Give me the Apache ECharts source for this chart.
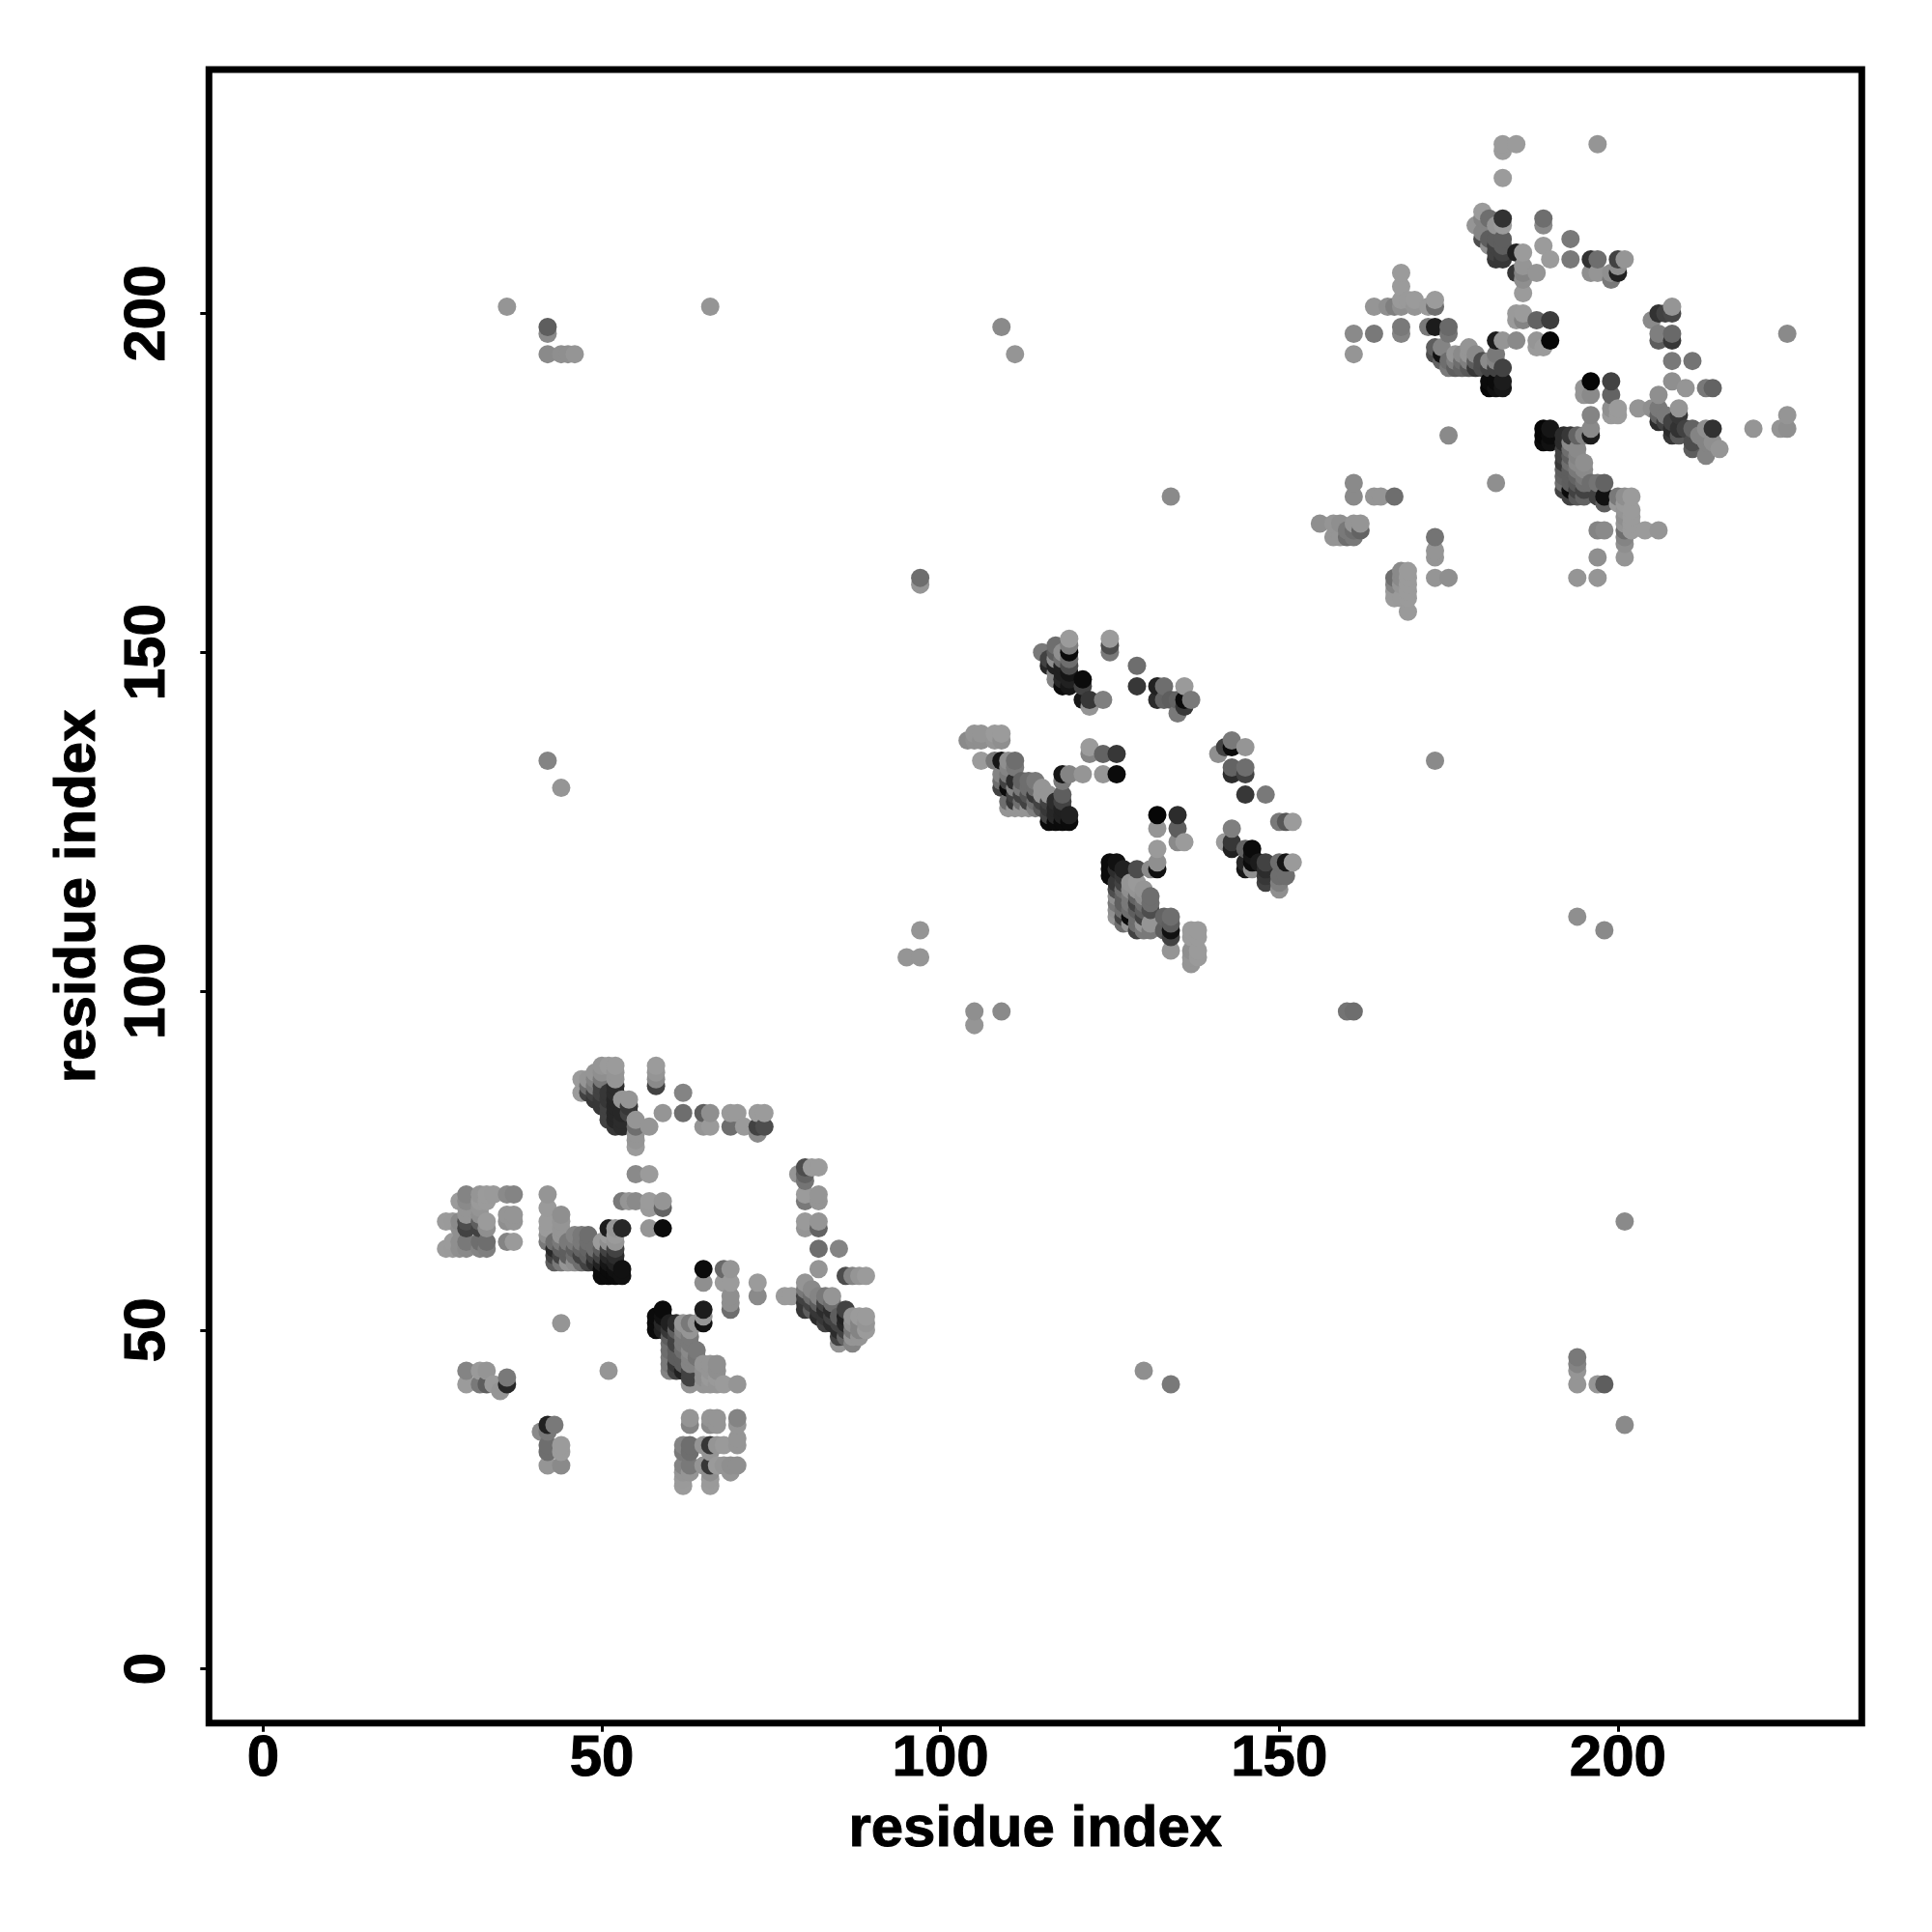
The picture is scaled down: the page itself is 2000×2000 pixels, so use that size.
<!DOCTYPE html>
<html><head><meta charset="utf-8">
<style>html,body{margin:0;padding:0;background:#fff}#c{width:2000px;height:2000px}</style>
<script src="https://cdn.jsdelivr.net/npm/echarts@6/dist/echarts.min.js"></script>
</head><body><div id="c"></div>
<script>
const tickValues=[0,50,100,150,200];
const axisTitle="residue index";
// each contact: [residue i, residue j, grey level]
const domainA=[
[47,87,150],[47,85,150],[48,87,135],[48,86,100],[48,85,60],[49,88,135],[49,87,120],[49,86,110],[49,85,60],[49,84,50],
[50,89,135],[50,88,130],[50,87,110],[50,86,60],[50,85,60],[50,84,50],[50,83,50],[51,89,150],[51,85,50],[51,84,50],[51,83,60],[51,82,60],[51,81,60],
[52,89,150],[52,88,135],[52,87,135],[52,86,40],[52,85,40],[52,84,35],[52,83,35],[52,82,35],[52,81,35],[52,80,50],
[53,84,135],[53,82,35],[53,81,40],[53,80,40],[54,84,135],[54,83,50],[54,82,60],[55,81,135],[55,80,100],[55,79,135],[55,78,135],[55,77,150],[57,80,135],
[58,89,150],[58,88,135],[58,87,125],[58,86,60],[62,85,120],[59,82,135],[62,82,100],[65,82,85],[66,82,130],[69,82,140],[70,82,140],[73,82,145],[74,82,145],
[65,80,135],[66,80,140],[69,80,100],[71,80,140],[73,80,60],[74,80,70],[73,79,125],
[55,73,125],[57,73,145],[53,69,110],[54,69,135],[55,69,125],[57,69,145],[59,69,135],[57,68,140],[59,68,90],
[51,65,25],[52,65,135],[53,65,35],[57,65,135],[59,65,10],
[30,70,120],[32,70,135],[33,70,145],[34,70,140],[36,70,125],[37,70,120],[29,69,145],[30,69,125],[32,69,140],[33,69,145],
[30,68,135],[32,68,135],[30,67,135],[32,67,130],[36,67,135],[37,67,135],[27,66,145],[28,66,140],[29,66,125],[30,66,70],[32,66,85],[33,66,145],[36,66,130],[37,66,135],
[29,65,130],[30,65,60],[32,65,60],[33,65,130],[28,63,145],[29,63,130],[30,63,110],[32,63,100],[33,63,100],[36,63,120],[37,63,140],
[27,62,145],[28,62,140],[29,62,130],[30,62,125],[32,62,120],[33,62,115],
[42,70,135],[42,68,140],[42,66,150],[42,65,145],[42,64,130],[42,63,110],
[43,63,100],[43,62,35],[43,61,60],[43,60,85],[44,67,130],[44,66,135],[44,65,135],[44,64,135],[44,63,110],[44,62,85],[44,61,60],[44,60,110],
[45,63,110],[45,62,85],[45,61,85],[45,60,135],[46,64,120],[46,63,110],[46,62,85],[46,61,100],[46,60,130],
[47,64,110],[47,63,110],[47,62,90],[47,61,60],[47,60,100],[48,64,100],[48,63,100],[48,62,90],[48,61,85],[48,60,60],
[49,62,100],[49,61,60],[49,60,40],[50,63,150],[50,62,85],[50,61,60],[50,60,30],[50,59,10],[50,58,10],
[51,64,150],[51,63,130],[51,62,60],[51,61,35],[51,60,20],[51,59,10],[51,58,10],[52,64,150],[52,63,135],[52,62,60],[52,61,40],[52,60,30],[52,59,15],[52,58,10],[53,59,15],[53,58,15],
[65,59,10],[68,59,95],[69,59,135],[65,57,130],[68,57,150],[69,57,150],[69,55,130],[69,54,130],[69,53,100],[73,57,150],[73,55,125],[77,55,150],[78,55,150],
[79,73,135],[80,74,70],[80,73,90],[80,72,105],[81,74,150],[82,74,150],[80,70,145],[80,69,110],[82,70,135],[82,69,135],[80,66,140],[80,65,135],[82,66,135],[82,65,90],[82,62,100],[85,62,120],[82,59,135],
[86,58,70],[87,58,120],[88,58,135],[89,58,150],[80,57,135],
[80,56,110],[80,55,60],[80,54,50],[80,53,50],[81,56,125],[81,55,100],[81,54,60],[81,53,85],[82,55,120],[82,54,85],[82,53,50],[82,52,40],
[83,55,110],[83,54,60],[83,53,40],[83,52,50],[83,51,60],[84,55,135],[84,54,100],[84,53,40],[84,52,60],[84,51,40],
[85,52,85],[85,51,60],[85,50,40],[85,49,60],[85,48,135],[86,53,60],[86,52,30],[86,51,35],[86,50,60],[86,49,90],
[87,52,135],[87,51,130],[87,50,110],[87,49,135],[87,48,120],[88,52,150],[88,51,120],[88,50,120],[88,49,135],[89,52,150],[89,51,135],[89,50,150],
[59,53,10],[58,52,10],[58,51,10],[58,50,10],[59,52,15],[59,51,35],[59,50,30],
[60,51,30],[60,50,50],[60,49,85],[60,48,100],[60,47,100],[60,46,110],[60,45,110],[60,44,120],
[61,51,40],[61,50,85],[61,49,60],[61,48,60],[61,47,85],[61,46,85],[61,45,50],[61,44,60],
[62,51,135],[62,50,120],[62,49,110],[62,48,110],[62,47,100],[62,46,85],[62,45,85],[62,44,30],
[63,51,110],[63,50,135],[63,49,110],[63,48,110],[63,47,125],[63,46,120],[63,45,120],[63,44,60],[63,43,60],[63,42,135],
[65,53,25],[65,52,135],[65,51,15],[64,51,135],[64,47,110],[64,46,105],[64,45,120],
[65,45,135],[65,44,130],[65,43,130],[65,42,135],[66,45,135],[66,44,135],[66,43,140],[66,42,135],[67,45,130],[67,44,130],[67,43,140],[67,42,135],[68,42,150],[70,42,135],
[30,44,120],[30,42,145],[32,44,140],[33,44,135],[32,42,110],[33,42,85],[34,42,140],[35,41,135],[36,43,110],[36,42,35],
[44,51,135],[51,44,135],
[42,36,30],[43,36,110],[41,35,125],[42,35,110],[42,33,100],[42,32,100],[42,30,135],[44,33,145],[44,32,150],[44,30,125],
[63,37,135],[63,36,120],[66,37,135],[67,37,135],[66,36,125],[67,36,135],[70,37,120],[70,36,135],[70,34,135],[70,33,135],
[62,33,120],[63,33,100],[62,32,110],[63,32,100],[65,33,135],[66,33,50],[66,32,135],[67,33,135],[68,33,140],
[62,30,120],[63,30,110],[62,29,135],[62,28,140],[62,27,150],[63,29,135],[65,30,135],[66,30,50],[67,30,140],[68,30,135],[69,30,130],[69,29,135],[70,30,130],[66,29,130],[66,28,140],[66,27,150]
];
const domainB=[
[119,152,150],[119,151,115],[119,150,10],[119,149,100],[115,150,110],[116,149,60],[116,148,35],[117,151,100],[117,150,85],[117,149,130],[117,148,30],[117,147,120],[117,146,120],
[118,150,130],[118,149,100],[118,148,30],[118,147,30],[118,146,35],[118,145,10],[119,148,70],[119,147,20],[119,146,30],[119,145,20],[121,146,10],[121,145,60],[121,143,20],[122,143,50],[122,142,135],[124,143,115],
[125,152,150],[125,151,70],[125,150,110],[129,148,100],[129,145,50],[132,145,30],[133,145,100],[132,143,40],[133,143,90],[134,143,85],[136,145,140],[135,143,90],[136,143,10],[136,142,50],[135,141,110],[137,143,110],
[104,137,125],[105,138,135],[105,137,130],[106,138,135],[106,137,130],[108,138,150],[109,138,150],[109,137,130],[108,137,135],
[106,134,150],[108,134,110],[109,134,20],[110,134,130],[111,134,100],[109,132,120],[109,131,100],[109,130,60],
[110,133,120],[110,132,110],[110,131,60],[110,130,10],[110,128,100],[110,127,135],[111,133,110],[111,131,40],[111,130,120],[111,129,60],[111,128,50],[111,127,135],
[112,131,90],[112,130,110],[112,129,60],[112,128,100],[112,127,135],[113,131,100],[113,130,100],[113,129,75],[113,128,60],[113,127,135],
[114,131,110],[114,130,100],[114,129,50],[114,128,100],[114,127,115],[115,130,135],[115,129,135],[115,128,60],[115,127,80],
[116,129,135],[116,128,60],[116,127,50],[116,126,60],[116,125,10],[117,128,40],[117,127,35],[117,126,35],[117,125,10],
[118,132,20],[118,131,110],[118,129,85],[118,128,60],[118,127,30],[118,126,30],[118,125,10],[119,132,120],[119,126,30],[119,125,10],
[121,132,135],[124,132,135],[126,132,10],[122,136,150],[122,135,120],[124,135,90],[126,135,50],
[141,135,130],[142,136,60],[143,137,110],[143,136,10],[145,136,135],[143,133,90],[143,132,40],[145,133,100],[145,132,60],[145,129,50],[148,129,110],[150,125,110],[151,125,80],[152,125,150],
[132,126,5],[132,124,135],[135,126,40],[135,124,85],[135,122,125],[136,122,150],[132,121,140],[132,119,130],[132,118,15],
[125,119,10],[126,119,15],[125,118,10],[125,117,10],[126,118,40],[127,118,30],[129,118,70],[131,118,125],
[126,116,50],[126,115,70],[126,114,130],[126,113,110],[126,112,130],[126,111,135],
[127,117,50],[127,116,60],[127,115,100],[127,114,85],[127,113,85],[127,112,100],[127,111,60],[127,110,100],
[128,116,135],[128,115,130],[128,114,110],[128,113,110],[128,112,100],[128,111,10],[128,110,135],
[129,116,140],[129,115,135],[129,114,90],[129,113,60],[129,112,85],[129,111,100],[129,110,100],[129,109,60],
[130,115,135],[130,114,130],[130,113,100],[130,112,85],[130,111,60],[130,110,135],[130,109,110],
[131,114,100],[131,113,100],[131,112,70],[131,110,135],[131,109,110],[133,111,90],[134,111,100],[134,110,85],[134,109,15],[134,108,60],[134,106,135],[133,109,85],
[137,109,150],[138,109,150],[137,108,145],[138,108,150],[137,106,130],[138,106,145],[137,105,135],[138,105,140],[137,104,135],
[143,124,115],[142,122,150],[143,122,50],[143,121,30],[145,121,90],[146,121,10],[145,119,35],[145,118,20],[146,120,20],[146,119,10],[146,118,130],[147,119,25],[148,119,60],[148,118,40],[148,117,50],[148,116,60],
[150,119,100],[151,119,20],[152,119,140],[150,117,100],[151,117,100],[150,115,130],[150,116,115]
];
const domainC=[
[183,225,150],[183,224,150],[185,225,150],[183,220,150],[197,225,135],
[180,215,150],[179,213,135],[180,214,120],[181,214,100],[183,214,45],[182,213,135],[183,213,150],[180,212,120],[180,211,70],[181,211,85],[182,211,85],[183,211,85],[181,210,130],[182,210,60],[183,210,85],[182,209,60],[183,209,60],[182,208,50],[183,208,50],
[185,209,30],[186,209,145],[186,207,135],[185,206,50],[186,206,120],[186,205,130],[188,206,135],[186,203,150],
[189,214,100],[189,213,125],[189,210,145],[190,208,145],[193,211,110],[193,208,110],[196,208,45],[197,208,100],[196,206,130],[197,206,135],[199,206,130],[200,208,60],[200,207,130],[200,206,30],[199,205,110],[201,208,135],
[168,206,150],[168,204,145],[164,201,135],[166,201,130],[167,201,115],[168,202,140],[168,201,130],[169,202,140],[170,202,145],[170,201,135],[173,202,145],[173,201,100],[172,201,140],
[161,197,125],[164,197,110],[168,198,110],[168,197,120],[161,194,135],
[172,198,110],[173,198,25],[173,195,85],[173,194,70],[175,198,95],[175,197,105],
[174,195,120],[174,194,15],[174,193,90],[175,193,100],[175,192,110],[176,194,135],[176,193,115],[176,192,85],[177,194,125],[177,193,100],[177,192,90],[178,195,135],[178,194,135],[178,193,115],[178,192,80],
[179,194,125],[179,193,85],[179,192,50],[180,193,70],[180,192,70],[181,193,125],[181,192,60],[181,190,10],[181,189,5],
[182,196,25],[182,194,110],[182,193,120],[182,192,60],[182,190,10],[182,189,15],[183,196,135],[183,192,60],[183,190,25],[183,189,20],
[185,196,125],[188,196,135],[189,195,150],[188,195,150],[190,196,5],[185,200,140],[186,200,150],[185,199,140],[186,199,120],[188,199,90],[190,199,55],
[206,200,45],[205,199,125],[207,200,60],[208,201,135],[208,200,65],[206,197,115],[206,196,85],[208,197,95],[208,196,50],[208,193,110],[211,193,105],[208,190,130],[210,189,135],[213,189,110],[214,189,90],
[196,190,5],[199,190,60],[195,189,135],[195,188,135],[196,188,125],[199,188,90],[199,186,130],[200,186,150],[199,185,150],[200,185,150],[196,185,120],[196,183,125],[196,182,25],
[203,186,135],[205,186,130],[206,188,130],[206,186,110],[206,185,90],[206,184,40],[207,185,110],[207,184,60],[208,184,60],[209,186,135],[209,185,50],[208,183,40],[208,182,50],[209,183,45],[209,182,80],[210,183,60],[211,183,90],[211,181,70],[211,180,85],
[213,183,130],[214,183,45],[213,181,120],[213,179,120],[212,182,120],[215,180,135],[214,181,130],[220,183,135],[224,183,135],[225,183,130],[225,185,135],[225,197,125],
[189,183,5],[190,183,20],[189,182,5],[190,182,10],[189,181,10],[190,181,15],[192,182,40],[193,182,50],[192,181,40],[194,182,90],[195,182,120],
[192,180,60],[192,179,60],[192,178,50],[192,177,85],[192,176,90],[192,175,100],[192,174,60],
[193,181,125],[193,180,100],[193,179,85],[193,178,100],[193,177,85],[193,176,85],[193,175,85],[193,174,10],[193,173,60],
[194,180,125],[194,179,120],[194,178,125],[194,177,110],[194,176,90],[194,175,80],[194,174,60],[194,173,80],
[195,178,130],[195,177,125],[195,176,110],[195,175,100],[195,174,60],[195,173,90],[196,175,100],[197,175,105],[198,175,90],[197,173,60],[198,173,15],[198,172,85],
[200,173,110],[200,172,145],[201,173,130],[201,172,140],[201,171,135],[201,170,130],[201,169,135],[201,168,100],[201,167,120],[201,166,130],[201,164,135],
[202,173,150],[202,171,150],[202,170,150],[202,169,150],[202,168,150],[204,168,145],[206,168,135],[197,168,120],[198,168,125],[197,164,130],[194,161,135],[197,161,135],
[182,175,130],[175,182,125],[161,175,125],[161,173,125],[164,173,135],[165,173,135],[167,173,100],
[156,169,130],[158,169,135],[159,169,130],[158,167,135],[159,167,135],[160,167,100],[161,167,110],[160,168,110],[161,168,100],[161,169,135],[162,169,135],[162,168,90],
[173,167,105],[173,165,135],[173,164,135],[173,161,135],[175,161,130],
[167,161,100],[168,162,125],[169,162,150],[167,160,120],[168,161,125],[169,161,150],[169,159,150],[167,159,140],[167,158,150],[168,158,140],[169,158,150],[169,156,140],[168,160,135],[169,160,150]
];
const sparseContacts=[
[36,201,135],[66,201,135],[42,198,85],[42,197,125],[42,194,125],[44,194,130],[45,194,130],[46,194,135],[109,198,125],[111,194,135],
[134,173,125],[97,161,100],[97,160,135],[173,134,125],[42,134,120],[44,130,135],
[97,109,135],[95,105,135],[97,105,135],[105,97,130],[105,95,135],[109,97,125],[160,97,105],[161,97,100],[194,111,130],[198,109,125],
[201,66,125],[130,44,130],[134,42,110],[194,46,110],[194,45,120],[194,44,135],[194,42,135],[197,42,135],[198,42,85],[201,36,125]
];
const contacts=[...domainA,...domainB,...domainC,...sparseContacts].sort((a,b)=>a[0]-b[0]||a[1]-b[1]);
const fontFamily='"Liberation Sans",Arial,sans-serif';
const lab={fontFamily,fontWeight:'bold',fontSize:60,color:'#000',textBorderColor:'#000',textBorderWidth:1};
function grey(g){const v=Math.min(155,Math.round(g*1.1));return `rgb(${v},${v},${v})`;}
function axis(extra){return Object.assign({type:'value',min:-8,max:236,name:axisTitle,nameLocation:'middle',
 nameTextStyle:lab,splitLine:{show:false},
 axisLine:{show:true,onZero:false,lineStyle:{color:'#000',width:1}},
 axisTick:{show:true,length:9,inside:false,lineStyle:{color:'#000',width:3},customValues:tickValues},
 axisLabel:{show:true,fontFamily,fontWeight:'bold',fontSize:60,color:'#000',textBorderColor:'#000',textBorderWidth:1,customValues:tickValues,showMinLabel:true,showMaxLabel:true}},extra);}
const chart=echarts.init(document.getElementById('c'),null,{renderer:'canvas'});
const xa=axis({nameGap:81});xa.axisLabel.margin=8;
const ya=axis({nameGap:105});ya.axisLabel.margin=33;ya.axisLabel.rotate=90;ya.nameRotate=90;
chart.setOption({animation:false,backgroundColor:'#fff',
 grid:{show:true,left:216.3,top:72,width:1711,height:1711.7,borderColor:'#000',borderWidth:7,backgroundColor:'transparent',z:3},
 xAxis:xa,yAxis:ya,
 series:[{type:'scatter',symbol:'circle',symbolSize:19,clip:false,silent:true,large:false,
  data:contacts.map(c=>({value:[c[0],c[1]],itemStyle:{color:grey(c[2]),opacity:1}}))}]});
</script></body></html>
